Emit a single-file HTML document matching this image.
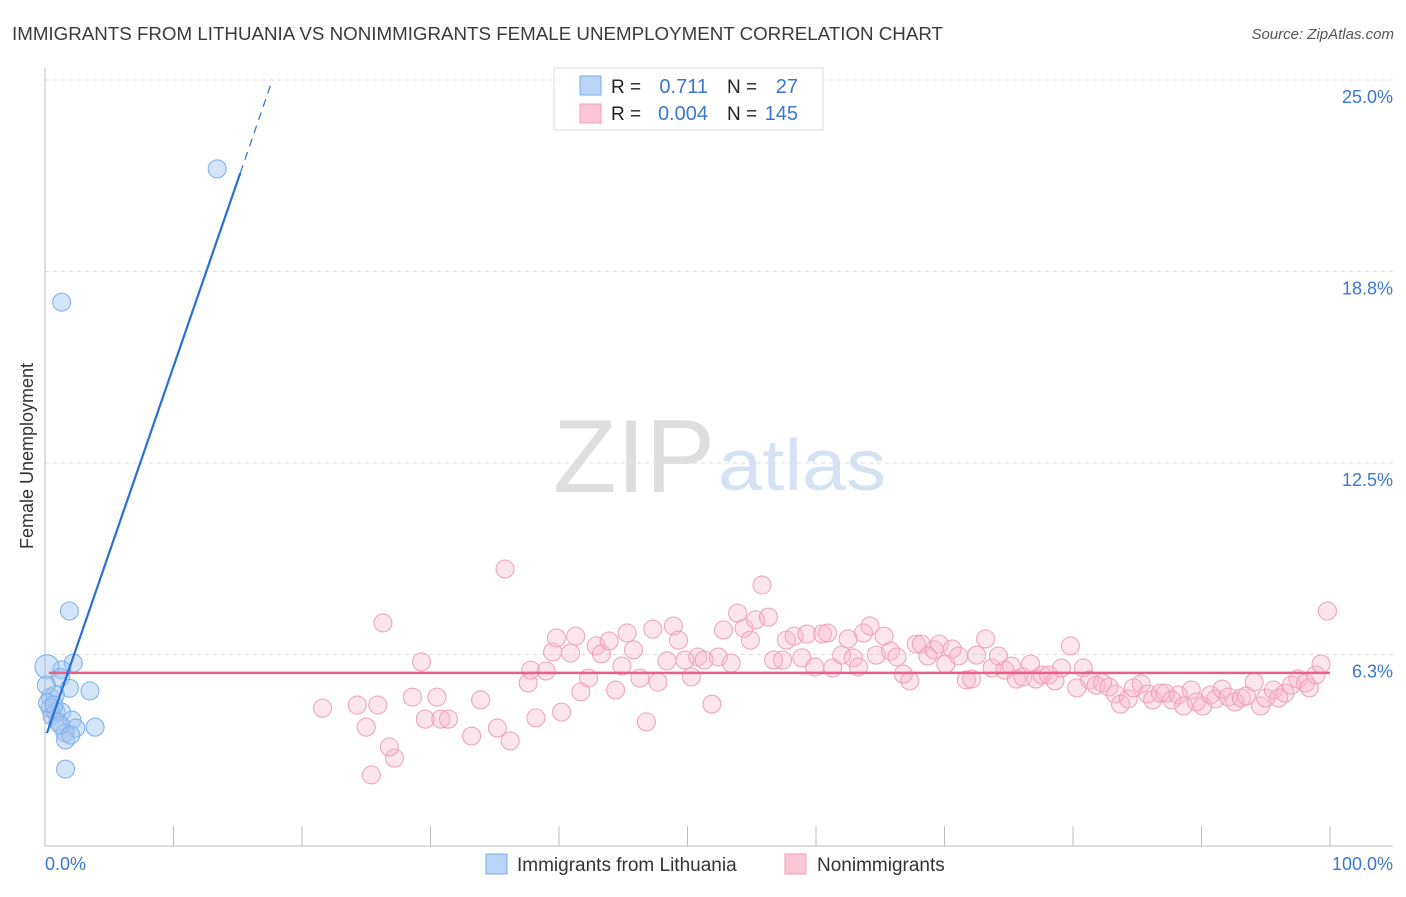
<!DOCTYPE html>
<html><head><meta charset="utf-8"><style>
body{margin:0;background:#fff;font-family:"Liberation Sans",sans-serif}
svg text{font-family:"Liberation Sans",sans-serif}
</style></head><body>
<svg id="chart" width="1406" height="892" xmlns="http://www.w3.org/2000/svg">
<text x="12" y="40" font-size="18" fill="#3a3a3a" textLength="931" lengthAdjust="spacingAndGlyphs">IMMIGRANTS FROM LITHUANIA VS NONIMMIGRANTS FEMALE UNEMPLOYMENT CORRELATION CHART</text>
<text x="1394" y="39" font-size="15" fill="#555" text-anchor="end" font-style="italic">Source: ZipAtlas.com</text>
<g>
<text x="553" y="492" font-size="104" fill="#dedede" font-family="Liberation Serif,serif" textLength="162" lengthAdjust="spacingAndGlyphs">ZIP</text>
<text x="718" y="490" font-size="72" fill="#d4e2f4" textLength="168" lengthAdjust="spacingAndGlyphs">atlas</text>
</g>
<g id="grid"></g><g id="axes"></g><g id="marks"></g>
<text transform="translate(33,456) rotate(-90)" font-size="18" fill="#333" text-anchor="middle">Female Unemployment</text>
<g>
<rect x="554" y="68" width="269" height="62" fill="#fff" stroke="#ddd"/>
<rect x="580" y="76" width="21" height="19" fill="#b8d4f6" stroke="#7aaee8"/>
<rect x="580" y="104" width="21" height="19" fill="#fbc6d5" stroke="#f0a0b8"/>
<text x="611" y="93" font-size="19" fill="#222">R =</text><text x="708" y="93" font-size="20" fill="#3a78d0" text-anchor="end">0.711</text>
<text x="727" y="93" font-size="19" fill="#222">N =</text><text x="798" y="93" font-size="20" fill="#3a78d0" text-anchor="end">27</text>
<text x="611" y="120" font-size="19" fill="#222">R =</text><text x="708" y="120" font-size="20" fill="#3a78d0" text-anchor="end">0.004</text>
<text x="727" y="120" font-size="19" fill="#222">N =</text><text x="798" y="120" font-size="20" fill="#3a78d0" text-anchor="end">145</text>
</g>
<g>
<rect x="486" y="854" width="21" height="20" fill="#b8d4f6" stroke="#7aaee8"/>
<text x="517" y="871" font-size="19" fill="#333">Immigrants from Lithuania</text>
<rect x="785" y="854" width="21" height="20" fill="#fbc6d5" stroke="#f0a0b8"/>
<text x="817" y="871" font-size="19" fill="#333">Nonimmigrants</text>
</g>
</svg>
<script>
const yTicks=[25,18.75,12.5,6.25];
const yTickLabels=["25.0%","18.8%","12.5%","6.3%"];
const xTickLabels=["0.0%","100.0%"];
const blueX=[13.4,1.3,1.9,2.2,1.3,0.15,1.2,1.9,3.5,0.4,0.8,0.4,0.85,0.55,1.3,1.0,2.1,2.4,3.9,1.55,1.6,1.6,0.2,0.7,0.1,1.2,2.0];
const blueY=[22.1,17.75,7.67,5.97,5.75,5.85,5.5,5.15,5.06,4.86,4.93,4.5,4.37,4.24,4.37,4.05,4.11,3.85,3.88,3.69,3.46,2.51,4.67,4.6,5.25,3.95,3.62];
const pinkX=[21.6,24.3,25.0,25.9,26.3,27.2,26.8,25.4,29.3,28.6,29.6,30.5,30.8,31.4,33.2,33.9,35.2,35.8,36.2,37.6,37.8,38.2,39.0,39.5,39.8,40.2,40.9,41.3,41.7,42.3,42.9,43.3,43.9,44.4,44.9,45.3,45.8,46.3,46.8,47.3,47.7,48.4,48.9,49.3,49.8,50.3,50.8,51.3,51.9,52.4,52.8,53.4,53.9,54.4,54.9,55.3,55.8,56.3,56.7,57.4,57.7,58.3,58.9,59.3,59.9,60.5,60.9,61.3,62.0,62.5,62.9,63.3,63.7,64.2,64.7,65.3,65.8,66.3,66.8,67.3,67.8,68.2,68.7,69.2,69.6,70.1,70.6,71.1,71.7,72.1,72.5,73.2,73.7,74.2,74.7,75.2,75.6,76.1,76.7,77.1,77.6,78.1,78.6,79.1,79.8,80.3,80.8,81.3,81.8,82.3,82.8,83.3,83.7,84.3,84.7,85.3,85.8,86.2,86.8,87.2,87.7,88.2,88.6,89.2,89.6,90.1,90.7,91.1,91.6,92.1,92.6,93.1,93.5,94.1,94.6,95.0,95.6,96.0,96.5,97.0,97.5,98.1,98.4,98.9,99.3,99.8];
const pinkY=[4.50,4.60,3.88,4.60,7.28,2.87,3.23,2.32,6.01,4.86,4.14,4.86,4.14,4.14,3.59,4.77,3.85,9.04,3.43,5.32,5.74,4.18,5.71,6.33,6.79,4.37,6.30,6.85,5.03,5.48,6.53,6.27,6.69,5.09,5.87,6.95,6.40,5.48,4.05,7.08,5.35,6.04,7.18,6.72,6.07,5.52,6.17,6.07,4.63,6.17,7.05,5.97,7.60,7.11,6.72,7.38,8.52,7.47,6.07,6.07,6.72,6.85,6.14,6.92,5.84,6.92,6.95,5.81,6.23,6.76,6.14,5.84,6.95,7.18,6.23,6.85,6.36,6.17,5.61,5.39,6.59,6.59,6.20,6.40,6.59,5.94,6.43,6.20,5.42,5.45,6.23,6.76,5.81,6.20,5.74,5.87,5.45,5.52,5.94,5.45,5.58,5.58,5.39,5.81,6.53,5.16,5.81,5.42,5.25,5.32,5.19,4.96,4.63,4.80,5.16,5.29,4.96,4.77,4.99,4.99,4.77,4.93,4.57,5.09,4.70,4.57,4.93,4.80,5.12,4.86,4.70,4.83,4.90,5.35,4.57,4.83,5.09,4.83,4.99,5.25,5.45,5.32,5.16,5.58,5.94,7.67];
const blueTrend=[3.5,1.215];
const pinkTrend=[5.65,0];
const NS="http://www.w3.org/2000/svg";
const X0=45,X1=1330,Y0=846,Yt=80;
const sx=p=>X0+p*(X1-X0)/100;
const sy=v=>Y0-v*(Y0-Yt)/25;
function mk(t,a,parent){const e=document.createElementNS(NS,t);for(const k in a)e.setAttribute(k,a[k]);document.getElementById(parent).appendChild(e);return e;}
yTicks.forEach((t,i)=>{
 const g=mk('line',{x1:X0,x2:1393,y1:sy(t),y2:sy(t),stroke:'#ddd','stroke-dasharray':'4,4'},'grid');
 
 
 const l=mk('text',{x:1393,y:sy(t)+23,'font-size':18,fill:'#3a78d0','text-anchor':'end'},'grid');
 l.textContent=yTickLabels[i];
 
 
});
const ax=mk('line',{x1:X0,x2:X0,y1:68,y2:Y0,stroke:'#bbb'},'axes');


const bx=mk('line',{x1:X0,x2:1393,y1:Y0,y2:Y0,stroke:'#bbb'},'axes');


for(let i=1;i<=10;i++){
 const t=mk('line',{x1:sx(i*10),x2:sx(i*10),y1:826,y2:Y0,stroke:'#bbb'},'axes');
 
 
}
[[0,'start',45],[100,'end',1393]].forEach((d,i)=>{
 const t=mk('text',{x:d[2],y:870,'font-size':18,fill:'#3a78d0','text-anchor':d[1]},'axes');
 t.textContent=xTickLabels[i];
 
 
});
pinkX.forEach((p,i)=>{
 const c=mk('circle',{cx:sx(p),cy:sy(pinkY[i]),r:9,fill:'rgba(248,180,200,0.35)',stroke:'#f0a0b8','stroke-width':1},'marks');
 
 
});
blueX.forEach((p,i)=>{
 const c=mk('circle',{cx:sx(p),cy:sy(blueY[i]),r:i==5?12:9,fill:'rgba(160,196,240,0.45)',stroke:'#7aaee8','stroke-width':1},'marks');
 
 
});
const pl=mk('line',{x1:sx(0.3),x2:sx(100),y1:sy(pinkTrend[0]),y2:sy(pinkTrend[0]+pinkTrend[1]*100),stroke:'#e8608a','stroke-width':2.5},'marks');


const pEnd=15.2, pMax=(25-blueTrend[0])/blueTrend[1];
const bl=mk('line',{x1:sx(0.15),y1:sy(blueTrend[0]+blueTrend[1]*0.15),x2:sx(pEnd),y2:sy(blueTrend[0]+blueTrend[1]*pEnd),stroke:'#2a6fd6','stroke-width':2.2},'marks');


const bd=mk('line',{x1:sx(pEnd),y1:sy(blueTrend[0]+blueTrend[1]*pEnd),x2:sx(pMax),y2:sy(25),stroke:'#2a6fd6','stroke-width':1.2,'stroke-dasharray':'8,6'},'marks');


</script>
</body></html>
